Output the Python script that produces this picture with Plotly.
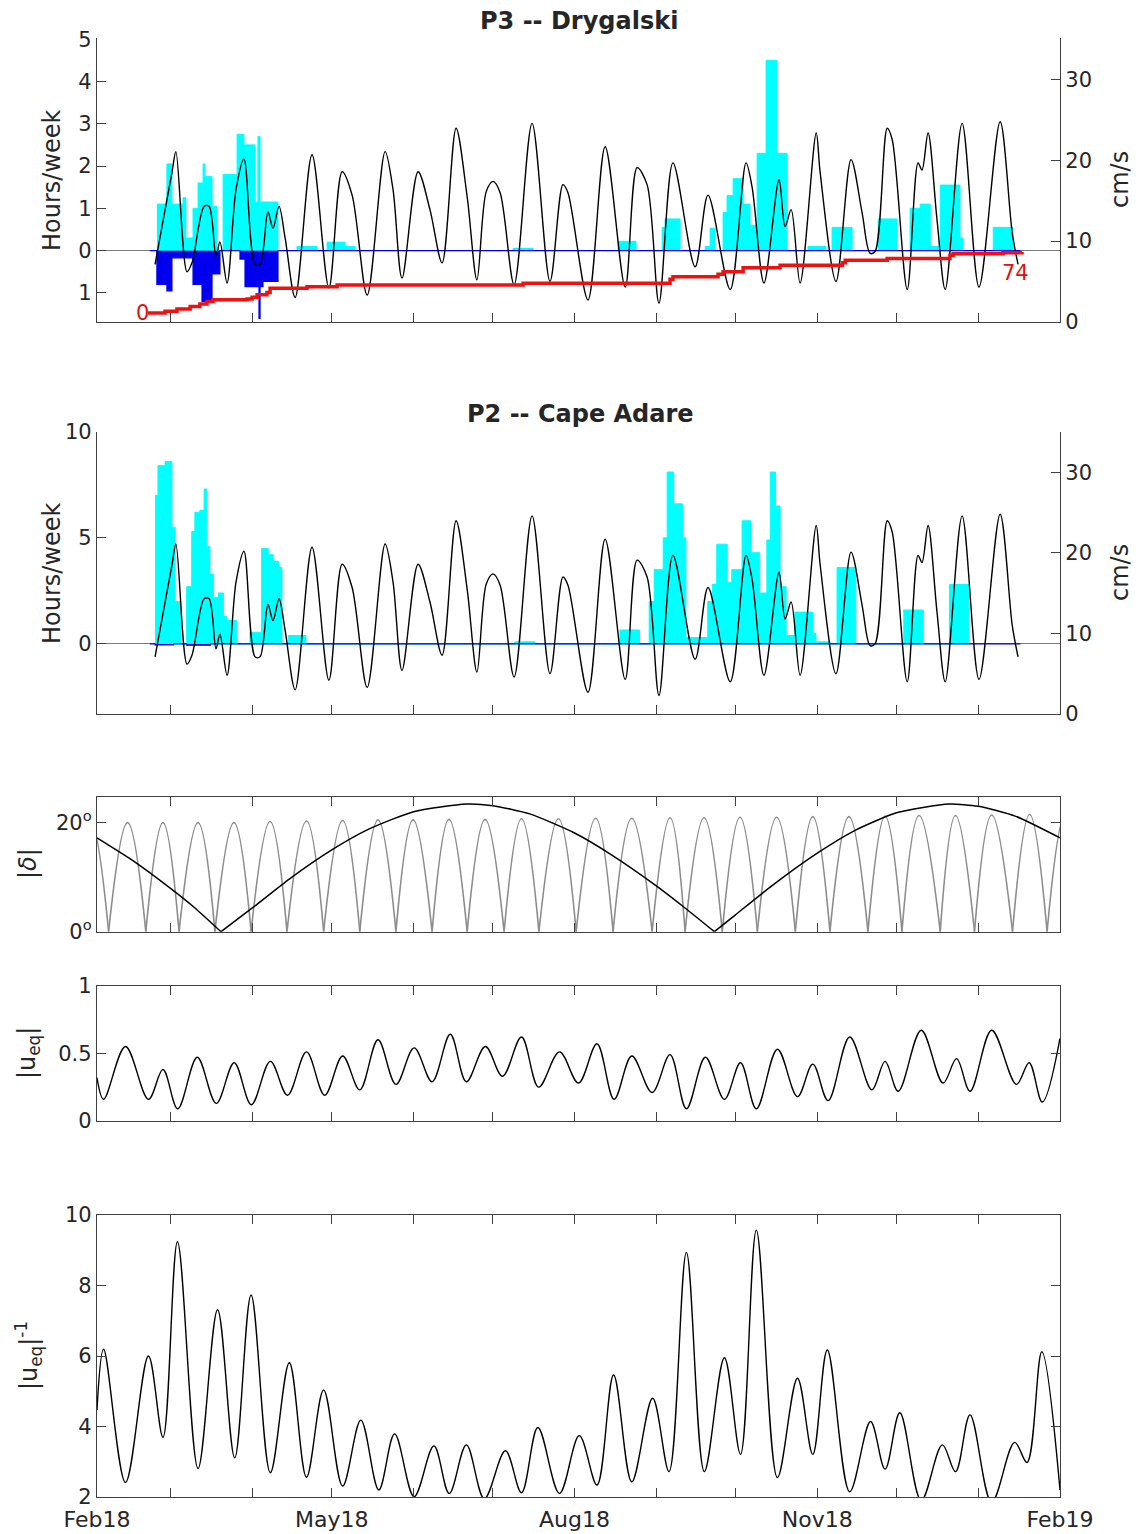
import pandas as pd
import plotly.graph_objects as go

# all times are days after 1 Feb 2018
t0 = pd.Timestamp("2018-02-01")

# current speed (cm/s), right axis of the two upper panels
speed_days = [22.0, 28.4, 29.9, 34.1, 36.0, 40.6, 42.5, 45.1, 46.6, 49.3, 52.7, 55.7, 59.9, 61.8,
              64.8, 66.7, 69.0, 71.3, 75.1, 81.5, 87.9, 92.9, 96.7, 102.4, 109.2, 112.2, 115.6,
              121.7, 126.2, 130.8, 136.1, 140.3, 144.0, 147.5, 150.1, 152.8, 158.1, 164.9, 171.7,
              176.6, 178.5, 186.1, 192.6, 200.2, 204.7, 208.5, 213.0, 218.3, 226.7, 231.6, 240.0,
              246.0, 248.3, 252.8, 258.5, 260.8, 263.1, 266.5, 272.6, 274.1, 280.1, 285.8, 290.0,
              293.0, 294.9, 299.5, 301.4, 307.1, 311.2, 312.7, 315.0, 318.4, 321.5, 327.9, 334.3,
              342.3, 346.9, 349.1]
speed_cms = [7.1, 18.5, 21.1, 6.2, 7.3, 14.3, 14.3, 8.1, 9.9, 4.8, 16.4, 20.2, 7.1, 7.1,
             13.6, 11.6, 14.3, 10.4, 3.0, 20.7, 4.2, 18.6, 15.7, 3.3, 21.1, 16.4, 5.4,
             18.6, 13.9, 7.3, 24.0, 15.5, 5.2, 16.1, 17.4, 16.0, 4.6, 24.6, 5.0,
             17.0, 16.0, 2.7, 21.7, 4.3, 19.1, 17.0, 2.3, 19.7, 6.8, 15.7, 4.0,
             19.7, 16.7, 4.8, 17.6, 11.8, 13.9, 4.8, 23.4, 18.5, 5.0, 20.1, 13.5,
             8.5, 8.7, 24.0, 22.6, 4.0, 19.7, 18.8, 23.4, 12.6, 4.0, 24.6, 4.3,
             24.8, 11.0, 7.1]

# P3 Drygalski, hours/week (step values starting at each day)
p3_pos_days = [22.7, 26.5, 28.4, 32.6, 33.7, 36.4, 38.3, 40.2, 40.9, 43.6, 45.5, 47.8, 53.1, 55.7,
               59.9, 61.0, 61.8, 68.6, 75.8, 83.4, 87.2, 94.0, 97.8, 157.7, 165.3, 197.5, 204.3,
               214.2, 215.3, 221.0, 230.5, 232.4, 234.3, 237.3, 238.8, 241.1, 244.9, 247.5, 250.2,
               253.6, 257.8, 261.6, 269.5, 276.3, 278.6, 286.2, 296.1, 303.3, 308.2, 312.0, 315.8,
               319.6, 327.1, 328.3, 339.7, 347.2]
p3_pos_hours = [1.1, 2.05, 1.1, 1.25, 0.3, 1.0, 1.6, 2.05, 1.75, 1.05, 0.0, 1.8, 2.75, 2.5,
                1.15, 2.7, 1.15, 0.0, 0.1, 0.0, 0.2, 0.1, 0.0, 0.05, 0.0, 0.22, 0.0,
                0.55, 0.75, 0.0, 0.1, 0.53, 0.0, 0.9, 1.3, 1.7, 1.1, 0.6, 2.3,
                4.5, 2.3, 0.0, 0.1, 0.0, 0.55, 0.0, 0.75, 0.0, 1.0, 1.1, 0.1,
                1.55, 0.3, 0.0, 0.55, 0.0]
p3_neg_days = [20.0, 22.7, 26.5, 28.4, 36.4, 39.8, 43.6, 46.6, 54.2, 56.1, 61.4, 61.8, 62.9, 68.6, 350.0]
p3_neg_hours = [0.0, -0.8, -0.95, -0.17, -0.8, -1.2, -0.55, 0.0, -0.2, -0.85, -1.6, -0.85, -0.73, 0.0, 0.0]

# cumulative count (red staircase)
count_days = [19.3, 24.6, 25.8, 30.3, 35.3, 39.0, 41.7, 44.0, 56.9, 58.8, 60.7, 64.4, 65.6, 79.6,
              91.0, 161.5, 217.2, 218.3, 235.4, 237.3, 244.9, 258.9, 282.5, 283.6, 299.5, 323.3,
              324.5, 343.4, 350.6]
count_vals = [0, 0, 2, 5, 8, 11, 14, 16, 17, 19, 22, 25, 30, 32,
              34, 36, 41, 44, 47, 50, 55, 58, 61, 64, 66, 70,
              72, 73, 74]

# P2 Cape Adare, hours/week
p2_pos_days = [22.0, 23.1, 25.8, 28.4, 29.6, 31.8, 34.0, 35.9, 37.1, 39.0, 40.6, 41.6, 42.8, 44.1,
               46.0, 47.9, 49.2, 53.0, 58.0, 62.4, 64.9, 66.8, 68.8, 70.1, 72.5, 79.2, 158.4, 166.0,
               198.2, 205.6, 209.3, 211.2, 214.6, 216.1, 218.6, 221.9, 223.2, 231.5, 233.2, 234.9,
               238.9, 240.6, 244.5, 247.9, 251.2, 253.9, 255.2, 257.2, 258.9, 261.2, 264.5, 271.2,
               272.5, 277.9, 280.5, 287.6, 305.8, 313.2, 323.1, 330.4]
p2_pos_hours = [7.0, 8.4, 8.6, 5.5, 2.0, 0.0, 2.7, 5.3, 6.2, 6.3, 7.3, 4.6, 3.3, 2.2,
                2.4, 1.3, 1.1, 0.0, 0.55, 4.5, 4.2, 3.9, 3.6, 0.0, 0.4, 0.0, 0.1, 0.0,
                0.66, 0.0, 2.0, 3.5, 5.0, 8.1, 6.6, 5.0, 0.3, 2.0, 2.8, 4.7,
                2.9, 3.5, 5.8, 4.3, 2.4, 4.9, 8.1, 6.5, 2.7, 0.4, 1.5, 0.5,
                0.1, 0.0, 3.6, 0.0, 1.6, 0.0, 2.8, 0.0]
p2_neg_days = [20.0, 22.0, 29.0, 34.0, 43.0, 350.0]
p2_neg_hours = [0.0, -0.05, 0.0, -0.06, 0.0, 0.0]

# |declination|: moon (grey arches) and sun (black)
moon_zero_days = [-9.0, 4.4, 18.5, 31.1, 44.7, 58.4, 72.0, 85.9, 99.6, 113.3, 127.0, 140.3, 154.3,
                  167.5, 181.6, 195.6, 210.4, 222.9, 237.0, 250.3, 264.7, 277.8, 292.2, 305.1,
                  319.6, 332.6, 347.0, 360.1, 374.0]
moon_peak_days = [-2.3, 11.6, 25.0, 38.3, 51.9, 65.6, 79.4, 93.1, 106.5, 119.8, 133.4, 147.1, 160.9,
                  174.9, 189.0, 202.7, 217.2, 230.1, 243.7, 257.6, 271.3, 285.0, 298.7, 311.6,
                  325.4, 339.1, 353.5, 367.0]
moon_peak_deg = [20.0, 20.0, 20.0, 20.0, 20.0, 20.2, 20.3, 20.4, 20.5, 20.5, 20.6, 20.6, 20.7,
                 20.7, 20.8, 20.8, 20.9, 20.9, 21.0, 21.0, 21.1, 21.1, 21.2, 21.3, 21.3, 21.4,
                 21.5, 21.5]
sun_days = [0, 14, 28, 37, 47, 59, 73, 89, 103, 120, 140, 150, 164, 181, 195, 212, 223, 234,
            242, 256, 273, 287, 303, 323, 334, 348, 365]
sun_deg = [17.2, 12.9, 7.9, 4.4, 0.0, 4.4, 9.7, 15.0, 18.8, 22.0, 23.4, 23.1, 21.6, 18.1, 14.1,
           8.4, 4.3, 0.0, 3.1, 8.5, 14.4, 18.5, 21.8, 23.4, 23.0, 21.2, 17.2]

# |u_eq| and its inverse
ueq_days = [0.0, 2.5, 10.8, 19.5, 25.0, 30.6, 38.0, 45.2, 52.0, 58.5, 65.7, 72.2, 79.4, 86.3,
            93.1, 99.6, 106.5, 113.3, 120.2, 127.0, 133.9, 140.0, 147.2, 153.7, 160.9, 167.4,
            175.3, 182.5, 189.5, 196.0, 202.7, 210.4, 217.2, 223.4, 230.6, 237.8, 243.9, 249.9,
            257.9, 265.5, 271.3, 277.1, 285.3, 293.7, 298.7, 303.7, 312.4, 320.7, 325.8, 330.9,
            339.1, 348.5, 353.3, 358.3, 365.0]
ueq_vals = [0.32, 0.16, 0.55, 0.16, 0.38, 0.09, 0.47, 0.13, 0.43, 0.12, 0.44, 0.19, 0.51, 0.19,
            0.48, 0.23, 0.60, 0.27, 0.54, 0.29, 0.64, 0.29, 0.55, 0.33, 0.62, 0.25,
            0.51, 0.28, 0.57, 0.16, 0.48, 0.21, 0.49, 0.09, 0.47, 0.16, 0.43, 0.09,
            0.53, 0.18, 0.42, 0.15, 0.62, 0.23, 0.44, 0.22, 0.67, 0.28, 0.46, 0.22,
            0.67, 0.27, 0.43, 0.14, 0.61]
inv_days = [0.0, 2.5, 10.8, 19.5, 25.0, 30.5, 38.3, 45.7, 52.2, 58.4, 65.7, 72.9, 79.4, 85.9,
            93.1, 100.0, 106.8, 112.8, 120.2, 127.7, 133.5, 140.0, 146.8, 154.8, 160.9, 167.1,
            175.3, 182.8, 189.5, 195.8, 202.7, 210.6, 216.8, 223.4, 230.2, 237.8, 243.9, 249.9,
            257.9, 265.5, 271.3, 276.8, 285.3, 293.2, 298.7, 304.3, 312.4, 320.4, 325.4, 330.9,
            339.1, 347.8, 352.5, 358.1, 365.0]
inv_vals = [4.47, 6.19, 2.41, 6.0, 3.69, 9.24, 2.81, 7.31, 3.11, 7.73, 2.69, 5.81, 2.56, 5.04,
            2.31, 4.18, 2.2, 3.79, 2.01, 3.45, 2.1, 3.48, 1.95, 3.31, 2.12, 3.97,
            2.1, 3.74, 2.34, 5.46, 2.43, 4.8, 2.72, 8.94, 2.72, 5.95, 3.21, 9.57,
            2.55, 5.37, 3.21, 6.17, 2.15, 4.14, 2.79, 4.39, 1.9, 3.48, 2.72, 4.33,
            1.85, 3.55, 2.98, 6.12, 2.2]

month_ticks = pd.date_range("2018-02-01", "2019-02-01", freq="MS")
month_text = ["Feb18", "", "", "May18", "", "", "Aug18", "", "", "Nov18", "", "", "Feb19"]


def dates(days):
    return t0 + pd.to_timedelta(days, unit="D")


def day(d):
    return t0 + pd.Timedelta(days=d)


W, H = 1147, 1534
OFF = 8  # the page body adds 8 px on the top and left
AX = "#404040"
TXT = "#262626"
FONT = "DejaVu Sans"


def fx(p):
    return (p - OFF) / W


def fy(p):
    return 1 - (p - OFF) / H


def ydom(top, bottom):
    return [fy(bottom), fy(top)]


fig = go.Figure()

# ---- panel 1: P3 Drygalski
fig.add_trace(go.Scatter(x=dates(p3_pos_days), y=p3_pos_hours, mode="lines", line_shape="hv",
                         line=dict(color="#00ffff", width=1), fill="tozeroy", fillcolor="#00ffff",
                         xaxis="x", yaxis="y"))
fig.add_trace(go.Scatter(x=dates(p3_neg_days), y=p3_neg_hours, mode="lines", line_shape="hv",
                         line=dict(color="#0000ee", width=1.2), fill="tozeroy", fillcolor="#0000ee",
                         xaxis="x", yaxis="y"))
fig.add_trace(go.Scatter(x=dates(speed_days), y=speed_cms, mode="lines",
                         line=dict(color="black", width=1.4, shape="spline", smoothing=0.9),
                         xaxis="x", yaxis="y2"))
fig.add_trace(go.Scatter(x=dates(count_days), y=count_vals, mode="lines", line_shape="hv",
                         line=dict(color="#ee1111", width=3.5), xaxis="x", yaxis="y3"))

# ---- panel 2: P2 Cape Adare
fig.add_trace(go.Scatter(x=dates(p2_pos_days), y=p2_pos_hours, mode="lines", line_shape="hv",
                         line=dict(color="#00ffff", width=1), fill="tozeroy", fillcolor="#00ffff",
                         xaxis="x2", yaxis="y4"))
fig.add_trace(go.Scatter(x=dates(p2_neg_days), y=p2_neg_hours, mode="lines", line_shape="hv",
                         line=dict(color="#0000ee", width=1.2), fill="tozeroy", fillcolor="#0000ee",
                         xaxis="x2", yaxis="y4"))
fig.add_trace(go.Scatter(x=dates(speed_days), y=speed_cms, mode="lines",
                         line=dict(color="black", width=1.4, shape="spline", smoothing=0.9),
                         xaxis="x2", yaxis="y5"))

# ---- panel 3: |delta|, each arch drawn as its own smooth piece
mx, my = [], []
for i in range(len(moon_peak_days)):
    mx += [day(moon_zero_days[i]), day(moon_peak_days[i]), day(moon_zero_days[i + 1]), None]
    my += [0, moon_peak_deg[i], 0, None]
fig.add_trace(go.Scatter(x=mx, y=my, mode="lines", connectgaps=False,
                         line=dict(color="#8c8c8c", width=1.6, shape="spline", smoothing=1.2),
                         xaxis="x3", yaxis="y6"))

sx, sy = [], []
for i, (d, v) in enumerate(zip(sun_days, sun_deg)):
    sx.append(day(d))
    sy.append(v)
    if v == 0 and 0 < i < len(sun_days) - 1:
        sx += [None, day(d)]
        sy += [None, v]
fig.add_trace(go.Scatter(x=sx, y=sy, mode="lines", connectgaps=False,
                         line=dict(color="black", width=1.5, shape="spline", smoothing=0.6),
                         xaxis="x3", yaxis="y6"))

# ---- panel 4 and 5
fig.add_trace(go.Scatter(x=dates(ueq_days), y=ueq_vals, mode="lines",
                         line=dict(color="black", width=1.4, shape="spline", smoothing=1),
                         xaxis="x4", yaxis="y7"))
fig.add_trace(go.Scatter(x=dates(inv_days), y=inv_vals, mode="lines",
                         line=dict(color="black", width=1.4, shape="spline", smoothing=1),
                         xaxis="x5", yaxis="y8"))

base = dict(showgrid=False, zeroline=False, showline=True, linecolor=AX, linewidth=1.3,
            ticks="inside", ticklen=9, tickwidth=1.3, tickcolor=AX, automargin=False,
            tickfont=dict(family=FONT, size=21, color=TXT))
xdom = [fx(97), fx(1060)]
xr = [t0, t0 + pd.Timedelta(days=365)]
xbase = dict(base, type="date", domain=xdom, range=xr, tickvals=month_ticks, ticktext=month_text)

layout = dict(
    width=W, height=H, margin=dict(l=0, r=0, t=0, b=0, pad=0, autoexpand=False),
    paper_bgcolor="white", plot_bgcolor="white", showlegend=False,
    font=dict(family=FONT, color=TXT),
    xaxis=dict(xbase, anchor="y", showticklabels=False),
    xaxis2=dict(xbase, anchor="y4", showticklabels=False),
    xaxis3=dict(xbase, anchor="y6", showticklabels=False, mirror="ticks"),
    xaxis4=dict(xbase, anchor="y7", showticklabels=False, mirror="ticks"),
    xaxis5=dict(xbase, anchor="y8", mirror="ticks", ticklabelstandoff=2,
                tickfont=dict(family=FONT, size=22, color=TXT)),
    yaxis=dict(base, domain=ydom(38.3, 321.7), anchor="x", range=[-1.68, 5.02],
               tickvals=[-1, 0, 1, 2, 3, 4, 5], ticktext=["1", "0", "1", "2", "3", "4", "5"],
               zeroline=True, zerolinecolor="#7a7a7a", zerolinewidth=1.2),
    yaxis2=dict(base, overlaying="y", anchor="x", side="right", range=[0, 35.15],
                tickvals=[0, 10, 20, 30]),
    yaxis3=dict(overlaying="y", anchor="x", range=[-10.55, 333.3], visible=False,
                automargin=False),
    yaxis4=dict(base, domain=ydom(431.7, 714), anchor="x2", range=[-3.3, 10],
                tickvals=[0, 5, 10], zeroline=True, zerolinecolor="#7a7a7a", zerolinewidth=1.2),
    yaxis5=dict(base, overlaying="y4", anchor="x2", side="right", range=[0, 35.05],
                tickvals=[0, 10, 20, 30]),
    yaxis6=dict(base, domain=ydom(797, 931.7), anchor="x3", range=[0, 24.7], mirror="ticks",
                tickvals=[0, 20], ticktext=["0<sup>o</sup>", "20<sup>o</sup>"]),
    yaxis7=dict(base, domain=ydom(985.5, 1121), anchor="x4", range=[0, 1], mirror="ticks",
                tickvals=[0, 0.5, 1], ticktext=["0", "0.5", "1"]),
    yaxis8=dict(base, domain=ydom(1215, 1497), anchor="x5", range=[2, 10], mirror="ticks",
                tickvals=[2, 4, 6, 8, 10]),
)
fig.update_layout(**layout)


def label(text, px, py, size=24, angle=-90, color=TXT, bold=False):
    fig.add_annotation(text=f"<b>{text}</b>" if bold else text, x=fx(px), y=fy(py),
                       xref="paper", yref="paper", showarrow=False, textangle=angle,
                       font=dict(family=FONT, size=size, color=color),
                       xanchor="center", yanchor="middle")


label("P3 -- Drygalski", 579, 21, size=24, angle=0, bold=True)
label("P2 -- Cape Adare", 580, 414, size=24, angle=0, bold=True)
label("Hours/week", 52, 180)
label("Hours/week", 52, 573)
label("cm/s", 1120, 180)
label("cm/s", 1120, 573)
label("|<i>δ</i>|", 28, 864)
label("|u<sub>eq</sub>|", 28, 1053)
label("|u<sub>eq</sub>|<sup>-1</sup>", 28, 1356)
label("0", 142, 313, size=21, angle=0, color="#dd1111")
label("74", 1015, 273, size=21, angle=0, color="#dd1111")

fig.write_html("out.html")
